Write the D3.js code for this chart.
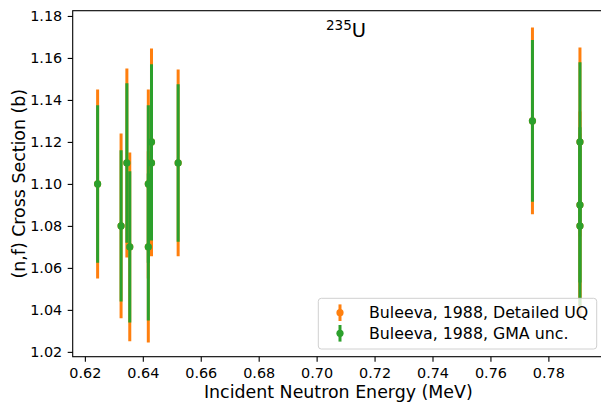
<!DOCTYPE html>
<html>
<head>
<meta charset="utf-8">
<script src="https://cdn.jsdelivr.net/npm/d3@7"></script>
<style>
  html, body { margin: 0; padding: 0; background: #fff; }
  svg { display: block; font-family: "DejaVu Sans", sans-serif; }
</style>
</head>
<body>
<svg id="chart" width="601" height="403"></svg>
<script>
// ---- data ----
const energy   = [0.6244, 0.6325, 0.6345, 0.6355, 0.6419, 0.6419, 0.6430, 0.6430, 0.6522, 0.7745, 0.7909, 0.7909, 0.7909];
const crossSec = [1.10,   1.08,   1.11,   1.07,   1.10,   1.07,   1.11,   1.12,   1.11,   1.13,   1.12,   1.09,   1.08];
const errUQ    = [0.045,  0.044,  0.045,  0.045,  0.045,  0.0455, 0.0445, 0.0445, 0.0445, 0.0445, 0.045,  0.0445, 0.0440];
const errGMA   = [0.0375, 0.036,  0.038,  0.036,  0.0375, 0.035,  0.037,  0.037,  0.0375, 0.0385, 0.038,  0.037,  0.038];
const xTicks = [0.62, 0.64, 0.66, 0.68, 0.70, 0.72, 0.74, 0.76, 0.78];
const yTicks = [1.02, 1.04, 1.06, 1.08, 1.10, 1.12, 1.14, 1.16, 1.18];
const seriesNames = ["Buleeva, 1988, Detailed UQ", "Buleeva, 1988, GMA unc."];
const seriesColors = ["#ff7f0e", "#2ca02c"];
const xDomain = [0.6158, 0.7992];
const yDomain = [1.0177, 1.1825];

// ---- layout ----
const svg = d3.select("#chart");
const L = 72.7, R = 604, T = 10.7, B = 356.7;
const x = d3.scaleLinear().domain(xDomain).range([L, R]);
const y = d3.scaleLinear().domain(yDomain).range([B, T]);

svg.append("defs").append("clipPath").attr("id", "clip")
  .append("rect").attr("x", L).attr("y", T).attr("width", R - L).attr("height", B - T);

const plot = svg.append("g").attr("clip-path", "url(#clip)");

const rows = energy.map((e, i) => ({e, v: crossSec[i], uq: errUQ[i], gma: errGMA[i]}));
const series = [
  {name: seriesNames[0], color: seriesColors[0], key: "uq"},
  {name: seriesNames[1], color: seriesColors[1], key: "gma"}
];

series.forEach(s => {
  const g = plot.append("g");
  g.selectAll("line").data(rows).join("line")
    .attr("x1", d => x(d.e)).attr("x2", d => x(d.e))
    .attr("y1", d => y(d.v - d[s.key])).attr("y2", d => y(d.v + d[s.key]))
    .attr("stroke", s.color).attr("stroke-width", 3);
  g.selectAll("circle").data(rows).join("circle")
    .attr("cx", d => x(d.e)).attr("cy", d => y(d.v)).attr("r", 3.6)
    .attr("fill", s.color);
});

// ---- axes ----
const xAxis = svg.append("g").attr("transform", `translate(0,${B})`)
  .call(d3.axisBottom(x).tickValues(xTicks).tickFormat(d3.format(".2f")).tickSize(5).tickPadding(6).tickSizeOuter(0));
const yAxis = svg.append("g").attr("transform", `translate(${L},0)`)
  .call(d3.axisLeft(y).tickValues(yTicks).tickFormat(d3.format(".2f")).tickSize(5).tickPadding(5.5).tickSizeOuter(0));
[xAxis, yAxis].forEach(a => {
  a.select(".domain").remove();
  a.selectAll("line").attr("stroke", "#000").attr("stroke-width", 1.1);
  a.selectAll("text").attr("fill", "#000").style("font-size", "14.4px").style("font-family", "DejaVu Sans");
});

// frame
svg.append("rect").attr("x", L).attr("y", T).attr("width", R - L).attr("height", B - T)
  .attr("fill", "none").attr("stroke", "#000").attr("stroke-width", 1.1);

// axis labels
svg.append("text").attr("x", (L + R) / 2).attr("y", 398).attr("text-anchor", "middle")
  .style("font-size", "17.4px").attr("fill", "#000").text("Incident Neutron Energy (MeV)");
svg.append("text").attr("transform", `translate(25,${(T + B) / 2}) rotate(-90)`).attr("text-anchor", "middle")
  .style("font-size", "17.4px").attr("fill", "#000").text("(n,f) Cross Section (b)");

// title
const title = svg.append("text").attr("x", 346).attr("y", 37).attr("text-anchor", "middle").attr("fill", "#000");
title.append("tspan").style("font-size", "13.5px").attr("dy", -7).text("235");
title.append("tspan").style("font-size", "19.5px").attr("dy", 7).text("U");

// legend
const lg = svg.append("g");
lg.append("rect").attr("x", 318.3).attr("y", 298.3).attr("width", 278.4).attr("height", 50.7)
  .attr("rx", 3).attr("fill", "#fff").attr("fill-opacity", 0.8).attr("stroke", "#d0d0d0").attr("stroke-width", 1);
const rowY = [312.7, 333.3];
series.forEach((s, i) => {
  const cy = rowY[i];
  lg.append("line").attr("x1", 340).attr("x2", 340).attr("y1", cy - 8.3).attr("y2", cy + 8.3)
    .attr("stroke", s.color).attr("stroke-width", 3);
  lg.append("circle").attr("cx", 340).attr("cy", cy).attr("r", 3.6).attr("fill", s.color);
  lg.append("text").attr("x", 369).attr("y", cy).attr("dy", "0.36em").style("font-size", "15.8px")
    .attr("fill", "#000").text(s.name);
});
</script>
</body>
</html>
